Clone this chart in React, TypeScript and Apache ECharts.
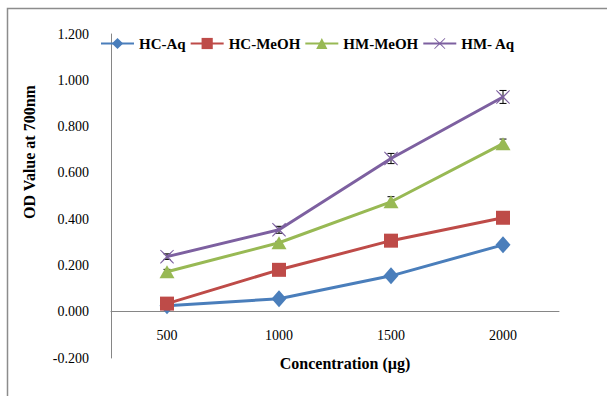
import React, { useEffect, useRef } from "react";
import * as echarts from "echarts";

const categories = ["500", "1000", "1500", "2000"];
const hcAq = [0.026, 0.056, 0.155, 0.289];
const hcMeOH = [0.035, 0.181, 0.307, 0.406];
const hmMeOH = [0.173, 0.298, 0.475, 0.726];
const hmAq = [0.238, 0.354, 0.662, 0.928];
const hcAqErr = [0.004, 0.004, 0.004, 0.004];
const hcMeOHErr = [0.02, 0.005, 0.005, 0.005];
const hmMeOHErr = [0.01, 0.006, 0.022, 0.02];
const hmAqErr = [0.012, 0.015, 0.022, 0.028];

const FONT = "'Liberation Serif', 'Times New Roman', serif";
const XPATH =
  "path://M1,0 L10,8.5 L19,0 L20,1 L11.5,10 L20,19 L19,20 L10,11.5 L1,20 L0,19 L8.5,10 L0,1 Z";

export default function App() {
  const ref = useRef<HTMLDivElement>(null);
  useEffect(() => {
    if (!ref.current) return;
    const chart = echarts.init(ref.current, undefined, { renderer: "svg" });
    const lineSeries = (name: string, data: number[], color: string, symbol: string, size: number | number[]) => ({
      name,
      type: "line",
      data,
      symbol,
      symbolSize: size,
      itemStyle: { color },
      lineStyle: { color, width: 3 },
      z: 3,
    });
    const errSeries = (vals: number[], errs: number[]) => ({
      type: "custom",
      silent: true,
      z: 2,
      data: vals.map((v, i) => [i, v, errs[i]]),
      renderItem: (params: any, api: any) => {
        const x = api.value(0);
        const y = api.value(1);
        const e = api.value(2);
        const t = api.coord([x, y + e]);
        const b = api.coord([x, y - e]);
        const w = 3.5;
        const st = { stroke: "#000", lineWidth: 1 };
        return {
          type: "group",
          children: [
            { type: "line", shape: { x1: t[0], y1: t[1], x2: b[0], y2: b[1] }, style: st },
            { type: "line", shape: { x1: t[0] - w, y1: t[1], x2: t[0] + w, y2: t[1] }, style: st },
            { type: "line", shape: { x1: b[0] - w, y1: b[1], x2: b[0] + w, y2: b[1] }, style: st },
          ],
        };
      },
    });
    const plotH = 396 - 34 - 38;
    const zeroOffset = -(plotH * 0.2) / 1.4;
    chart.setOption({
      animation: false,
      backgroundColor: "#fff",
      textStyle: { fontFamily: FONT },
      grid: { left: 111, top: 34, right: 48, bottom: 38, containLabel: false },
      legend: {
        left: 100,
        top: 36,
        padding: 0,
        itemWidth: 33,
        itemHeight: 14,
        itemGap: 4,
        textStyle: { fontFamily: FONT, fontSize: 15, fontWeight: "bold", color: "#000" },
        data: ["HC-Aq", "HC-MeOH", "HM-MeOH", "HM- Aq"],
      },
      xAxis: {
        type: "category",
        data: categories,
        boundaryGap: true,
        offset: zeroOffset,
        axisLine: { onZero: false, lineStyle: { color: "#868686", width: 1 } },
        axisTick: { show: false },
        axisLabel: { fontFamily: FONT, fontSize: 14, color: "#000", margin: 17 },
        splitLine: { show: false },
      },
      yAxis: {
        type: "value",
        min: -0.2,
        max: 1.2,
        interval: 0.2,
        axisLine: { show: true, lineStyle: { color: "#868686", width: 1 } },
        axisTick: { show: false },
        splitLine: { show: false },
        axisLabel: {
          fontFamily: FONT,
          fontSize: 14,
          color: "#000",
          margin: 22,
          formatter: (v: number) => v.toFixed(3),
        },
      },
      graphic: [
        {
          type: "rect",
          shape: { x: 7.5, y: 8.5, width: 640, height: 420 },
          style: { fill: "none", stroke: "#8c8c8c", lineWidth: 1.5 },
          silent: true,
        },
        {
          type: "text",
          x: 29,
          y: 152,
          rotation: Math.PI / 2,
          style: {
            text: "OD Value at 700nm",
            fontFamily: FONT,
            fontSize: 16,
            fontWeight: "bold",
            fill: "#000",
            align: "center",
            verticalAlign: "middle",
          },
        },
        {
          type: "text",
          x: 345,
          y: 363,
          style: {
            text: "Concentration (µg)",
            fontFamily: FONT,
            fontSize: 16,
            fontWeight: "bold",
            fill: "#000",
            align: "center",
            verticalAlign: "middle",
          },
        },
      ],
      series: [
        lineSeries("HC-Aq", hcAq, "#4A7EBB", "diamond", [15, 17]),
        lineSeries("HC-MeOH", hcMeOH, "#BE4B48", "rect", 14),
        lineSeries("HM-MeOH", hmMeOH, "#98B954", "triangle", [15, 13]),
        lineSeries("HM- Aq", hmAq, "#7D60A0", XPATH, 14),
        errSeries(hcAq, hcAqErr),
        errSeries(hcMeOH, hcMeOHErr),
        errSeries(hmMeOH, hmMeOHErr),
        errSeries(hmAq, hmAqErr),
      ],
    });
    return () => chart.dispose();
  }, []);
  return (
    <div
      ref={ref}
      style={{ position: "fixed", left: 0, top: 0, width: 607, height: 396 }}
    />
  );
}
